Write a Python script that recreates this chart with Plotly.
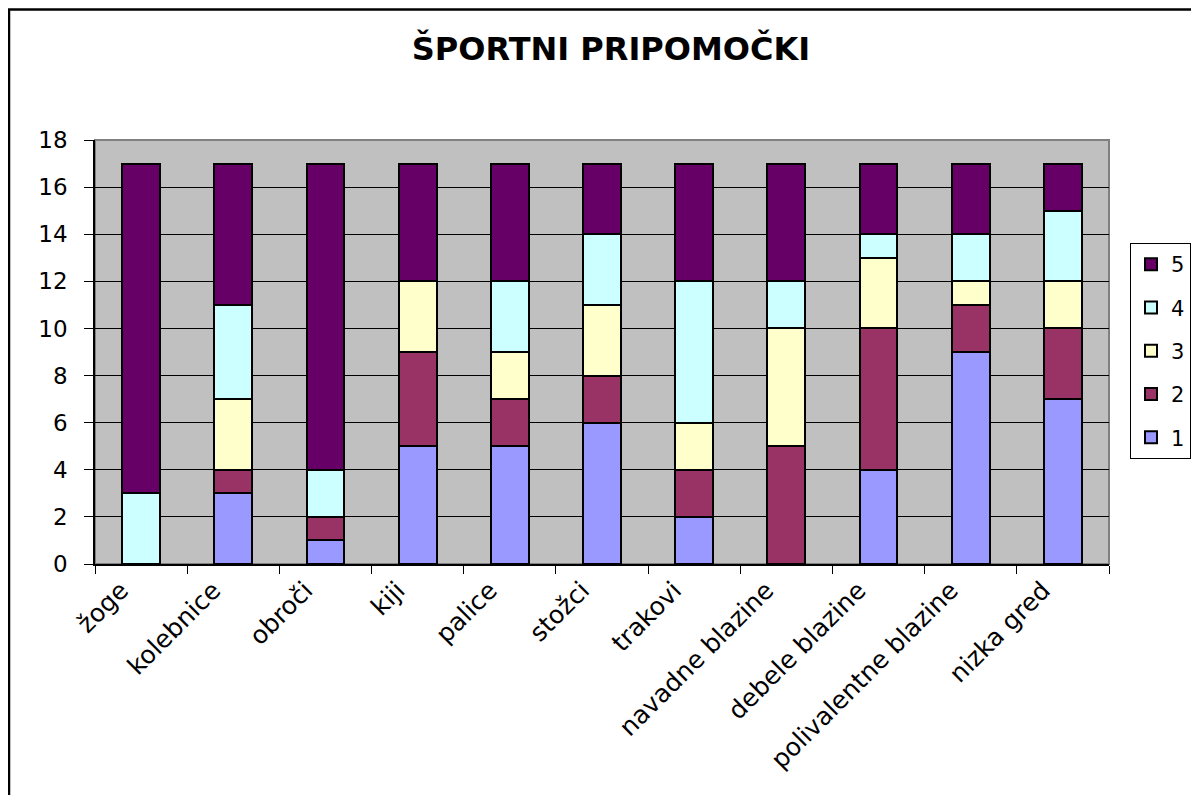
import plotly.graph_objects as go

categories = ["žoge", "kolebnice", "obroči", "kiji", "palice", "stožci", "trakovi",
              "navadne blazine", "debele blazine", "polivalentne blazine", "nizka gred"]
series_names = ["1", "2", "3", "4", "5"]
s1 = [0, 3, 1, 5, 5, 6, 2, 0, 4, 9, 7]
s2 = [0, 1, 1, 4, 2, 2, 2, 5, 6, 2, 3]
s3 = [0, 3, 0, 3, 2, 3, 2, 5, 3, 1, 2]
s4 = [3, 4, 2, 0, 3, 3, 6, 2, 1, 2, 3]
s5 = [14, 6, 13, 5, 5, 3, 5, 5, 3, 3, 2]
colors = ["#9999FF", "#993366", "#FFFFCC", "#CCFFFF", "#660066"]

O = 8  # page body margin offset
W, H = 1199 - O, 795 - O
L, R, T, B = 95 - O, 1109 - O, 140 - O, 564 - O
FONT = "DejaVu Sans, Liberation Sans, Arial, sans-serif"

fig = go.Figure()
for i, (name, vals, col) in enumerate(zip(series_names, [s1, s2, s3, s4, s5], colors)):
    fig.add_trace(go.Bar(x=categories, y=vals, name=name, legendgroup=name,
                         legendrank=10 - i,
                         marker=dict(color=col, line=dict(color="black", width=2)),
                         width=0.41))

pw, ph = R - L, B - T
def px(x): return (x - O - L) / pw
def py(y): return (B - (y - O)) / ph

fig.update_layout(
    width=W, height=H,
    barmode="stack",
    paper_bgcolor="white",
    plot_bgcolor="#C0C0C0",
    margin=dict(l=L, r=W - R, t=T, b=H - B, pad=0, autoexpand=False),
    font=dict(family=FONT, color="black", size=21),
    title=dict(text="<b>ŠPORTNI PRIPOMOČKI</b>", x=(611 - O) / W, xanchor="center",
               xref="container",
               y=1 - (49 - O) / H, yanchor="middle",
               font=dict(size=32, family=FONT, color="black")),
    showlegend=True,
    legend=dict(x=px(1130), xanchor="left", y=py(351), yanchor="middle",
                traceorder="grouped", tracegroupgap=13,
                bordercolor="black", borderwidth=1, bgcolor="white",
                font=dict(size=21, family=FONT), itemwidth=30),
)
fig.update_xaxes(showline=True, linecolor="black", linewidth=1.5,
                 ticks="outside", tickson="boundaries", ticklen=8, tickcolor="black",
                 tickangle=-45, tickfont=dict(size=25, family=FONT), showgrid=False,
                 ticklabelshift=-20)
fig.update_yaxes(range=[0, 18], dtick=2, showline=True, linecolor="black", linewidth=1.5,
                 ticks="outside", ticklen=9, tickcolor="black",
                 showgrid=True, gridcolor="black", gridwidth=1,
                 tickfont=dict(size=23, family=FONT), zeroline=False,
                 ticklabelstandoff=12)
# plot area border (gray) and outer chart border
fig.add_shape(type="rect", xref="paper", yref="paper", x0=0, y0=0, x1=1, y1=1,
              line=dict(color="#808080", width=2), layer="below")
fig.add_shape(type="rect", xref="paper", yref="paper",
              x0=px(9), x1=px(1215), y0=py(9.5), y1=py(820),
              line=dict(color="black", width=2.5))
fig.write_html("out.html")
